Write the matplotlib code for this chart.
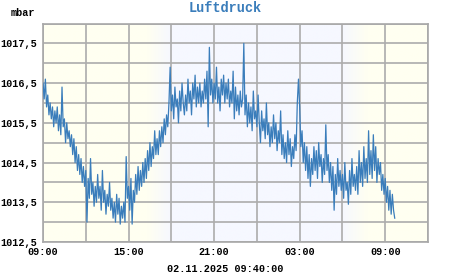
import numpy as np
import matplotlib
matplotlib.use("Agg")
import matplotlib.pyplot as plt
from matplotlib.colors import to_rgb
from matplotlib.ticker import MultipleLocator, FuncFormatter

# Luftdruck, ein Wert alle 5 Minuten ab 09:00 (eine Zeile = eine Stunde)
pressure = [
    1016.5, 1016.1, 1016.6, 1015.9, 1016.2, 1015.7, 1016.0, 1015.6, 1015.9, 1015.4, 1015.8, 1015.5,
    1015.9, 1015.3, 1015.7, 1015.2, 1016.4, 1015.4, 1015.6, 1015.0, 1015.5, 1015.1, 1015.3, 1014.9,
    1015.2, 1014.7, 1015.1, 1014.5, 1014.9, 1014.3, 1014.7, 1014.2, 1014.6, 1014.0, 1014.4, 1013.9,
    1014.3, 1013.0, 1014.1, 1013.6, 1014.6, 1013.7, 1014.0, 1013.4, 1013.9, 1013.5, 1014.2, 1013.6,
    1013.9, 1013.3, 1014.3, 1013.5, 1013.8, 1013.2, 1013.7, 1013.4, 1014.0, 1013.3, 1013.6, 1013.1,
    1013.5, 1013.0, 1013.7, 1013.2, 1013.6, 1012.95, 1013.4, 1013.1, 1013.5, 1013.0, 1014.65, 1013.6,
    1013.9, 1013.3, 1014.1, 1012.95, 1013.8, 1013.5, 1014.2, 1013.7, 1014.4, 1013.8, 1014.3, 1013.9,
    1014.5, 1014.0, 1014.6, 1014.1, 1014.8, 1014.3, 1015.0, 1014.4, 1014.9, 1014.6, 1015.3, 1014.7,
    1015.1, 1014.7, 1015.3, 1014.9, 1015.4, 1015.0, 1015.6, 1015.2, 1015.7, 1015.4, 1016.0, 1016.9,
    1015.8, 1016.2, 1015.6, 1016.4, 1015.9, 1016.1, 1015.5, 1016.3, 1015.8, 1016.5, 1016.0, 1015.7,
    1016.2, 1015.8, 1016.6, 1016.0, 1016.3, 1015.7, 1016.5, 1016.1, 1016.7, 1015.9, 1016.4, 1016.0,
    1016.5, 1015.9, 1016.3, 1016.0, 1016.6, 1016.1, 1016.8, 1015.4, 1017.4, 1016.2, 1016.6, 1016.0,
    1016.5, 1016.1, 1016.9, 1016.0, 1016.4, 1015.8, 1016.6, 1016.2, 1016.7, 1016.0, 1016.5, 1016.1,
    1016.6, 1015.9, 1016.3, 1016.0, 1016.8, 1015.6, 1016.4, 1015.8, 1016.2, 1015.7, 1016.3, 1015.9,
    1016.1, 1017.5, 1015.7, 1016.2, 1015.4, 1016.0, 1015.5, 1015.9, 1015.3, 1016.3, 1015.6, 1015.8,
    1015.4, 1016.2, 1015.5, 1015.0, 1015.8, 1015.3, 1015.6, 1015.1, 1016.0, 1015.2, 1015.5, 1014.9,
    1015.4, 1015.0, 1015.7, 1015.1, 1015.5, 1014.8, 1015.3, 1015.0, 1015.8, 1014.7, 1015.2, 1014.6,
    1015.0, 1014.5, 1015.3, 1014.7, 1015.1, 1014.4, 1014.9, 1014.6, 1015.2, 1014.8, 1016.0, 1016.6,
    1015.9, 1014.9, 1015.3, 1014.5, 1015.0, 1014.3, 1014.9, 1014.1, 1014.7, 1013.9, 1014.6, 1014.2,
    1014.9, 1014.3, 1014.8, 1014.1, 1015.0, 1014.4, 1014.7, 1014.0, 1014.6, 1014.2, 1015.45, 1014.3,
    1014.7, 1014.0, 1014.5, 1013.8, 1014.4, 1013.3, 1014.2, 1013.7, 1014.6, 1013.9, 1014.3, 1013.8,
    1014.2, 1013.6, 1014.5, 1013.8, 1014.0, 1013.45, 1014.3, 1013.7, 1014.6, 1013.9, 1014.2, 1013.8,
    1014.4, 1013.7, 1014.8, 1014.0, 1014.5, 1013.9, 1014.9, 1014.1, 1014.6, 1014.0, 1015.3, 1014.2,
    1014.8, 1014.1, 1015.2, 1014.3, 1014.9, 1014.0, 1014.6, 1014.2, 1014.5, 1013.8, 1014.2, 1013.7,
    1014.1, 1013.5, 1013.9, 1013.3, 1013.8, 1013.2, 1013.7, 1013.3, 1013.1,
]
step_minutes = 5
start_hour = 9
span_hours = 27

# Tag/Nacht (Stunden ab 09:00): Dämmerung als Verlauf
sunset = (7.3, 9.0)    # 16:20 .. 18:00
sunrise = (21.0, 22.75)  # 06:00 .. 07:45
day_color = "#FFFFF1"
night_color = "#F6F8FF"

hours = np.arange(len(pressure)) * step_minutes / 60.0

fig = plt.figure(figsize=(4.51, 2.75), dpi=100)
ax = fig.add_axes([43 / 451, 1 - 242 / 275, 385 / 451, 218.5 / 275])

# Hintergrund
xs = np.linspace(0, span_hours, 1000)
w = np.clip((xs - sunset[0]) / (sunset[1] - sunset[0]), 0, 1) * \
    np.clip((sunrise[1] - xs) / (sunrise[1] - sunrise[0]), 0, 1)
c_day = np.array(to_rgb(day_color))
c_night = np.array(to_rgb(night_color))
img = c_day[None, :] * (1 - w[:, None]) + c_night[None, :] * w[:, None]
ax.imshow(img[None, :, :], extent=[0, span_hours, 1012.5, 1018.0], aspect="auto",
          interpolation="bilinear", zorder=0)

ax.plot(hours, pressure, color="#3a7dbb", linewidth=0.9, zorder=3)

ax.set_xlim(0, span_hours)
ax.set_ylim(1012.5, 1018.0)
ax.xaxis.set_major_locator(MultipleLocator(6))
ax.xaxis.set_minor_locator(MultipleLocator(3))
ax.yaxis.set_major_locator(MultipleLocator(1.0, offset=0.5))
ax.yaxis.set_minor_locator(MultipleLocator(0.5))
ax.xaxis.set_major_formatter(FuncFormatter(lambda v, p: "%02d:00" % ((start_hour + int(round(v))) % 24)))
ax.yaxis.set_major_formatter(FuncFormatter(lambda v, p: ("%.1f" % v).replace(".", ",")))

ax.grid(which="both", color="#acacac", linewidth=1.2, zorder=1)
for s in ax.spines.values():
    s.set_color("#a8a8a8")
    s.set_linewidth(1.2)

ax.tick_params(which="both", length=0)
ax.tick_params(axis="y", pad=4)
ax.tick_params(axis="x", pad=3.5)
for lbl in ax.get_xticklabels() + ax.get_yticklabels():
    lbl.set_fontfamily("Liberation Mono")
    lbl.set_fontweight("bold")
    lbl.set_fontsize(7.3)

fig.text(0.5, 1 - 8 / 275, "Luftdruck", ha="center", va="center", color="#3a7dbb",
         family="Liberation Mono", weight="bold", fontsize=9.8)
fig.text(11 / 451, 1 - 13.5 / 275, "mbar", ha="left", va="center", color="black",
         family="Liberation Mono", weight="bold", fontsize=7.3)
fig.text(225 / 451, 1 - 269.5 / 275, "02.11.2025 09:40:00", ha="center", va="center",
         color="black", family="Liberation Mono", weight="bold", fontsize=7.3)

fig.savefig("out.png", dpi=100, facecolor="white")
